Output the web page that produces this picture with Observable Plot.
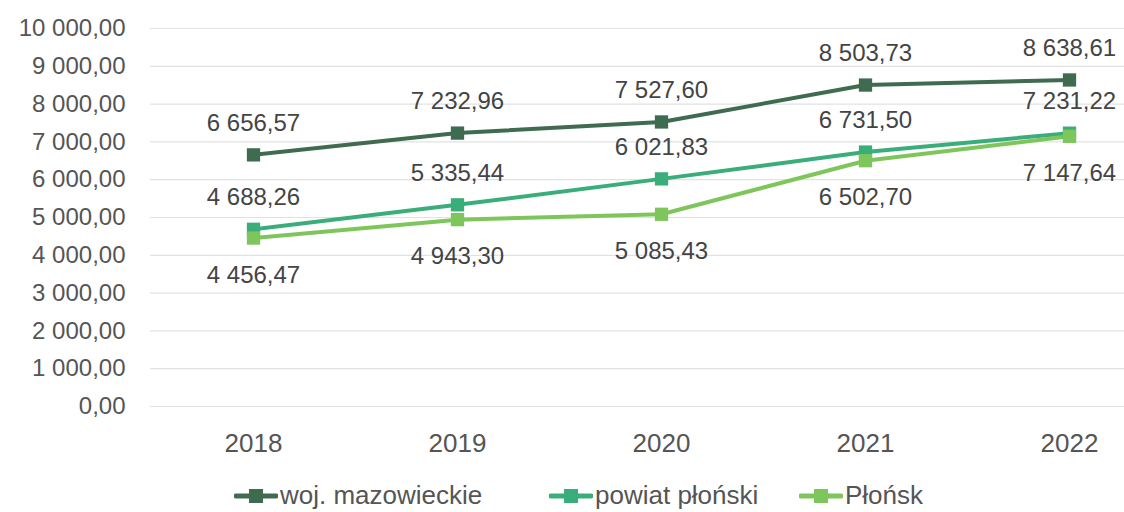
<!DOCTYPE html>
<html>
<head>
<meta charset="utf-8">
<script src="https://cdn.jsdelivr.net/npm/d3@7"></script>
<script src="https://cdn.jsdelivr.net/npm/@observablehq/plot@0.6"></script>
<style>
  body { margin: 0; background: #fff; font-family: "Liberation Sans", Arial, sans-serif; }
  #chart { width: 1124px; height: 512px; overflow: hidden; }
  .legend { position: relative; height: 34px; font-size: 26px; color: #555; }
  .legend .item { position: absolute; top: 2px; display: flex; align-items: center; white-space: nowrap; }
  .legend svg { margin-right: 2px; }
</style>
</head>
<body>
<div id="chart"></div>
<script>
const years = ["2018", "2019", "2020", "2021", "2022"];
const seriesNames = ["woj. mazowieckie", "powiat płoński", "Płońsk"];
const mazowieckie = [6656.57, 7232.96, 7527.60, 8503.73, 8638.61];
const powiat = [4688.26, 5335.44, 6021.83, 6731.50, 7231.22];
const plonsk = [4456.47, 4943.30, 5085.43, 6502.70, 7147.64];
const yTicks = [0, 1000, 2000, 3000, 4000, 5000, 6000, 7000, 8000, 9000, 10000];
const colors = ["#3f6b50", "#3aae7a", "#7ec65c"];

const locale = d3.formatLocale({decimal: ",", thousands: " ", grouping: [3], currency: ["", " zł"]});
const fmt = locale.format(",.2f");

const seriesValues = [mazowieckie, powiat, plonsk];
const data = [];
seriesNames.forEach((s, i) => years.forEach((y, j) => data.push({series: s, year: y, value: seriesValues[i][j]})));

const labelDy = {"woj. mazowieckie": -32, "powiat płoński": -32, "Płońsk": 37};

const chart = Plot.plot({
  width: 1124,
  height: 478,
  marginLeft: 150,
  marginRight: 0,
  marginTop: 28,
  marginBottom: 72,
  style: {fontFamily: "'Liberation Sans', Arial, sans-serif", background: "#fff"},
  x: {type: "point", domain: years, range: [252, 1070], padding: 0},
  y: {domain: [0, 10000]},
  color: {domain: seriesNames, range: colors},
  marks: [
    Plot.gridY(yTicks, {stroke: "#e2e2e2", strokeOpacity: 1, strokeWidth: 1.2}),
    Plot.axisY(yTicks, {tickSize: 0, tickPadding: 25, tickFormat: fmt, fontSize: 24, fill: "#555", label: null}),
    Plot.axisX({tickSize: 0, tickPadding: 27, fontSize: 26, fill: "#555", label: null}),
    Plot.line(data, {x: "year", y: "value", z: "series", stroke: "series", strokeWidth: 4}),
    Plot.dot(data, {x: "year", y: "value", fill: "series", symbol: "square", r: 7.5}),
    ...seriesNames.map(s => Plot.text(data.filter(d => d.series === s), {
      x: "year", y: "value", text: d => fmt(d.value), dy: labelDy[s], fontSize: 24, fill: "#444"
    }))
  ]
});

const container = document.getElementById("chart");
container.appendChild(chart);

const legend = document.createElement("div");
legend.className = "legend";
const legendLeft = [234, 549, 799];
seriesNames.forEach((s, i) => {
  const item = document.createElement("div");
  item.className = "item";
  item.style.left = legendLeft[i] + "px";
  item.innerHTML = `<svg width="44" height="16"><line x1="2" y1="8" x2="42" y2="8" stroke="${colors[i]}" stroke-width="5" stroke-linecap="round"/><rect x="15" y="1" width="14" height="14" fill="${colors[i]}"/></svg><span>${s}</span>`;
  legend.appendChild(item);
});
container.appendChild(legend);
</script>
</body>
</html>
